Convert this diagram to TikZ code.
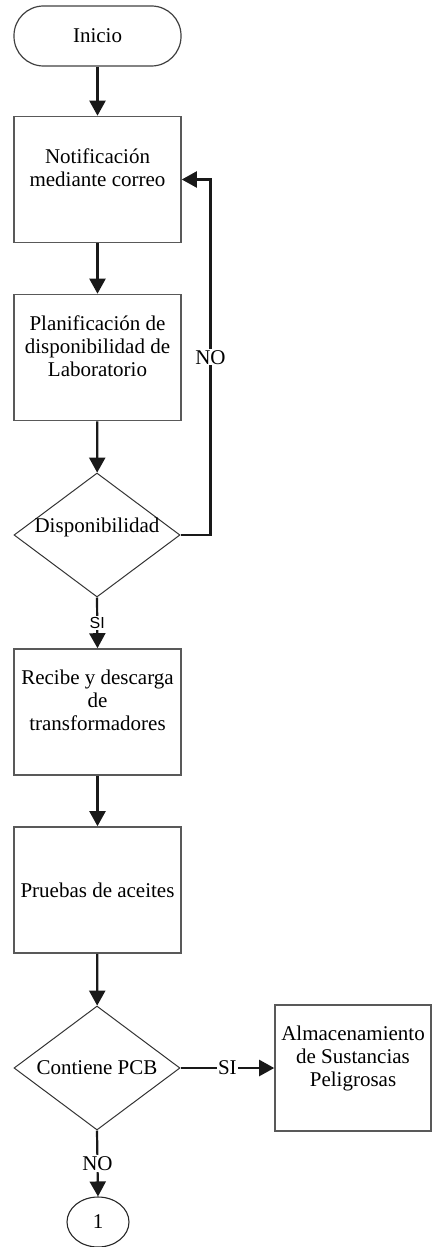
\documentclass[tikz,border=0pt]{standalone}
\usepackage{fontspec}
\setmainfont{Liberation Serif}
\newfontfamily\sinfont{Liberation Sans}
\usetikzlibrary{arrows.meta, shapes.geometric}

\begin{document}
\begin{tikzpicture}[x=1pt, y=-1pt, font=\fontsize{21}{23}\selectfont]

		\tikzstyle{term}=[rectangle, rounded corners=29.5pt, draw=black!75, line width=1.2pt, minimum width=167pt, minimum height=60pt, inner sep=0pt]
		\tikzstyle{proc}=[rectangle, draw=black!65, line width=1.6pt, minimum width=167pt, minimum height=126pt, align=center, inner sep=0pt]
		\tikzstyle{dec}=[diamond, draw=black!80, line width=1pt, minimum width=166pt, minimum height=124pt, aspect=1.34, inner sep=0pt]
		\tikzstyle{conn}=[ellipse, draw=black!85, line width=1.1pt, minimum width=62pt, minimum height=50pt, inner sep=0pt]
		\tikzstyle{flow}=[-{Triangle[width=16pt,length=15pt]}, line width=2.2pt, black!90]
		\tikzstyle{lbl}=[fill=white, inner sep=1pt, text=black]

		\useasboundingbox (0,0) rectangle (432,1247);

		\node[term] (inicio) at (97.5,36) {Inicio};
		\node[proc] (notif) at (97.5,179.5) {Notificación\\mediante correo\\ \mbox{}};
		\node[proc] (plan) at (97.5,357.5) {Planificación de\\disponibilidad de\\Laboratorio\\ \mbox{}};
		\node[dec, text height=2pt, text depth=8pt] (disp) at (97,535) {Disponibilidad};
		\node[proc] (recibe) at (97.5,712) {Recibe y descarga\\de\\transformadores\\ \mbox{}};
		\node[proc] (pruebas) at (97.5,890) {Pruebas de aceites};
		\node[dec] (pcb) at (97,1068) {Contiene PCB};
		\node[proc, minimum width=156pt] (almac) at (353,1068) {Almacenamiento\\de Sustancias\\Peligrosas\\ \mbox{}};
		\node[conn] (uno) at (98,1222) {1};

		% main flow
		\draw[flow] (inicio) -- (notif);
		\draw[flow] (notif) -- (plan);
		\draw[flow] (plan) -- (disp);
		\draw[flow] (disp.south) -- node[lbl, font=\sinfont\fontsize{16}{18}\selectfont] {SI} (recibe.north);
		\draw[flow] (recibe) -- (pruebas);
		\draw[flow] (pruebas) -- (pcb);

		% return loop
		\draw[flow] (disp.east) -- ++(30,0) |- node[lbl, pos=0.25] {NO} (notif.east);

		% PCB branches
		\draw[flow] (pcb.east) -- node[lbl] {SI} (almac.west);
		\draw[flow] (pcb.south) -- node[lbl] {NO} (uno.north);
		\end{tikzpicture}
\end{document}
